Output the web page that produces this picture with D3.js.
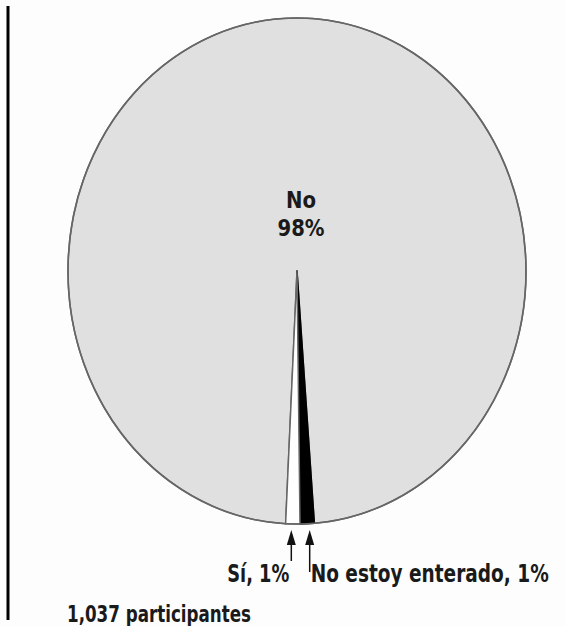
<!DOCTYPE html>
<html>
<head>
<meta charset="utf-8">
<script src="https://cdn.jsdelivr.net/npm/d3@7"></script>
<style>
  body { margin: 0; background: #fdfdfd; }
  text { font-family: "Liberation Sans Narrow", "DejaVu Sans Condensed", "Roboto", sans-serif; fill: #1a1a1a; }
</style>
</head>
<body>
<div id="chart-area"></div>
<script>
const WIDTH = 566
const HEIGHT = 626

// data
const categories = ["No", "No estoy enterado", "Sí"]
const values = [98, 1, 1]
const colors = ["#e0e0e0", "#000000", "#ffffff"]
const participants = "1,037 participantes"

const CX = 297, CY = 271
const RX = 229, RY = 253
const OFFSET = -0.75 * Math.PI / 180

const svg = d3.select("#chart-area").append("svg")
  .attr("width", WIDTH)
  .attr("height", HEIGHT)

// left rule
svg.append("line")
  .attr("x1", 8).attr("x2", 8)
  .attr("y1", 6).attr("y2", 620)
  .attr("stroke", "#000")
  .attr("stroke-width", 3)

const data = categories.map((c, i) => ({ cat: c, value: values[i], color: colors[i] }))

const pie = d3.pie()
  .sort(null)
  .value(d => d.value)
  .startAngle(-Math.PI * values[0] / 100 + OFFSET)
  .endAngle(2 * Math.PI - Math.PI * values[0] / 100 + OFFSET)

const arcs = pie(data)

const arc = d3.arc().innerRadius(0).outerRadius(RY)

const g = svg.append("g")
  .attr("transform", `translate(${CX}, ${CY}) scale(${RX / RY}, 1)`)

g.selectAll("path")
  .data(arcs)
  .enter().append("path")
    .attr("d", arc)
    .attr("fill", d => d.data.color)
    .attr("stroke", (d, i) => i === 1 ? "#000" : "#666")
    .attr("stroke-width", 1.5)
    .attr("vector-effect", "non-scaling-stroke")
    .attr("stroke-linejoin", "round")

// outline on top
g.append("ellipse")
  .attr("rx", RY).attr("ry", RY)
  .attr("fill", "none")
  .attr("stroke", "#666")
  .attr("stroke-width", 1.6)
  .attr("vector-effect", "non-scaling-stroke")

function fitText(sel, w) {
  sel.each(function () {
    const len = this.getComputedTextLength()
    if (len > 0) d3.select(this).attr("textLength", w).attr("lengthAdjust", "spacingAndGlyphs")
  })
}

// center label
svg.append("text")
  .attr("x", 301).attr("y", 208)
  .attr("text-anchor", "middle")
  .attr("font-size", "23px").attr("font-weight", "bold")
  .text(categories[0])
  .call(fitText, 30)

svg.append("text")
  .attr("x", 301).attr("y", 236)
  .attr("text-anchor", "middle")
  .attr("font-size", "23px").attr("font-weight", "bold")
  .text(values[0] + "%")
  .call(fitText, 47)

// arrows to the small slices
const ex = a => CX + RX * Math.sin(a)
const siArc = arcs[2], neArc = arcs[1]
const siX = ex((siArc.startAngle + siArc.endAngle) / 2) - 1.5
const neX = ex((neArc.startAngle + neArc.endAngle) / 2) + 2.5
const tipY = 530

function arrow(x, bottom) {
  svg.append("line")
    .attr("x1", x).attr("x2", x)
    .attr("y1", tipY + 10).attr("y2", bottom)
    .attr("stroke", "#111").attr("stroke-width", 1.5)
  svg.append("path")
    .attr("d", `M${x},${tipY} L${x - 4.5},${tipY + 15} L${x + 4.5},${tipY + 15} Z`)
    .attr("fill", "#111")
}
arrow(siX, 561)
arrow(neX, 572)

svg.append("text")
  .attr("x", siX - 2).attr("y", 582)
  .attr("text-anchor", "end")
  .attr("font-size", "24px").attr("font-weight", "bold")
  .text(categories[2] + ", " + values[2] + "%")
  .call(fitText, 62)

svg.append("text")
  .attr("x", neX + 1).attr("y", 582)
  .attr("font-size", "24px").attr("font-weight", "bold")
  .text(categories[1] + ", " + values[1] + "%")
  .call(fitText, 238)

svg.append("text")
  .attr("x", 67).attr("y", 622)
  .attr("font-size", "23px").attr("font-weight", "bold")
  .text(participants)
  .call(fitText, 184)
</script>
</body>
</html>
